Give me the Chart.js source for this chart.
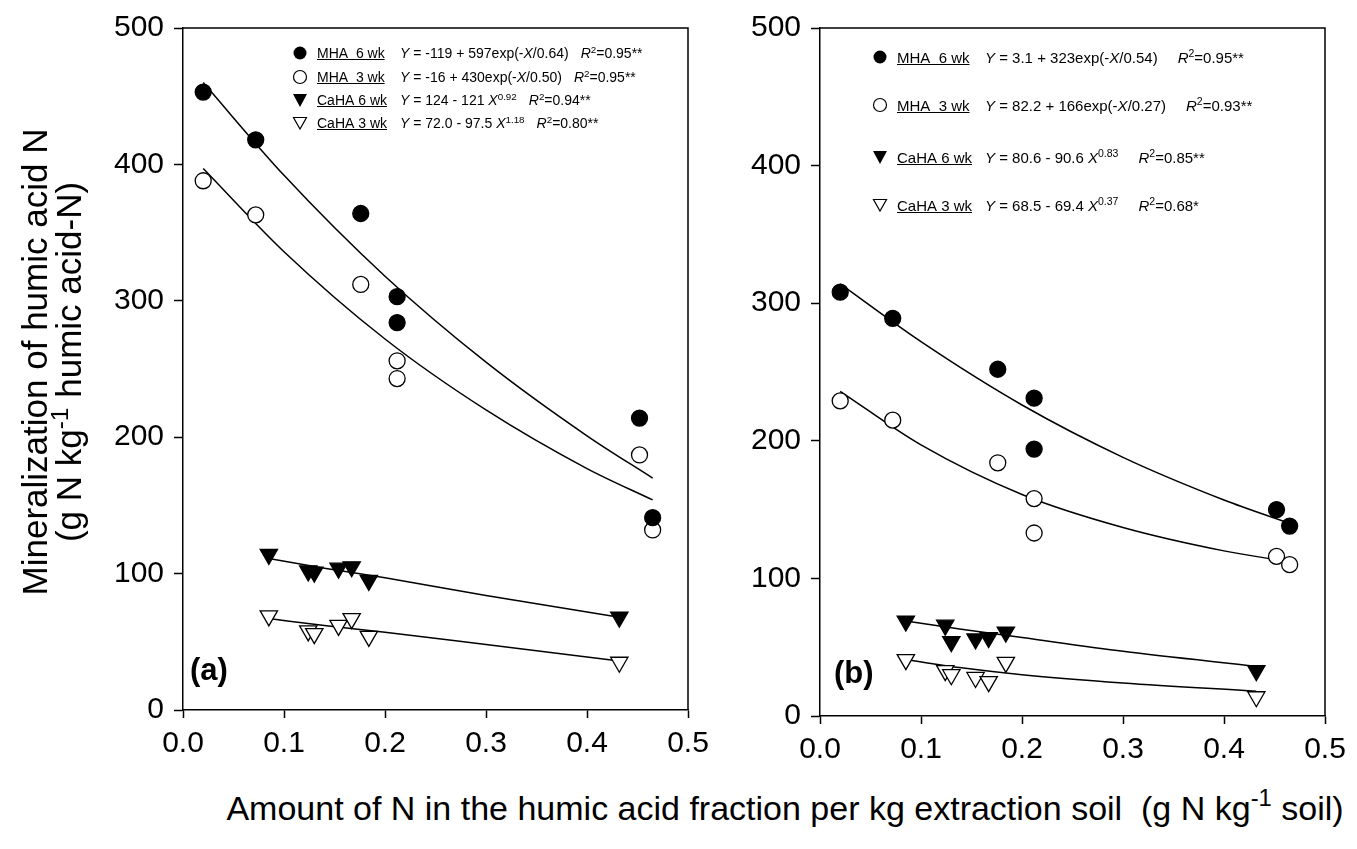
<!DOCTYPE html>
<html>
<head>
<meta charset="utf-8">
<script src="https://cdn.jsdelivr.net/npm/chart.js@4.4.1/dist/chart.umd.min.js"></script>
<style>
  body { margin: 0; background: #fff; font-family: "Liberation Sans", Arial, sans-serif; color: #000; }
  #wrap { position: relative; width: 1357px; height: 849px; overflow: hidden; }
  canvas { position: absolute; top: 0; }
  .lg { position: absolute; white-space: nowrap; line-height: 1; }
  .lg svg { position: absolute; }
  .lg .name { position: absolute; text-decoration: underline; }
  .lg .eq { position: absolute; }
  .lg .r2 { margin-left: 12px; }
  sup { font-size: 70%; vertical-align: 0.55em; line-height: 0; }
  .tag { position: absolute; font-weight: bold; font-size: 31px; }
  #ytitle { position: absolute; left: 52px; top: 362px; width: 600px; font-size: 35px; line-height: 34px;
            text-align: center; transform: translate(-50%, -50%) rotate(-90deg); white-space: nowrap; }
  #xtitle { position: absolute; left: 785px; top: 808px; font-size: 34px; white-space: nowrap;
            transform: translate(-50%, -50%); }
</style>
</head>
<body>
<div id="wrap">
  <canvas id="chartA" width="760" height="770" style="left:0px"></canvas>
  <canvas id="chartB" width="657" height="770" style="left:700px"></canvas>
  <div id="ytitle">Mineralization of humic acid N<br>(g N kg<sup>-1</sup> humic acid-N)</div>
  <div id="xtitle">Amount of N in the humic acid fraction per kg extraction soil&nbsp; (g N kg<sup>-1</sup> soil)</div>
  <div class="tag" style="left:190px; top:652px">(a)</div>
  <div class="tag" style="left:834px; top:655px">(b)</div>
  <div id="legendA"></div>
  <div id="legendB"></div>
</div>
<script>
//------------------------------ Data ------------------------------//
const xTicks = [0, 0.1, 0.2, 0.3, 0.4, 0.5];
const yTicks = [0, 100, 200, 300, 400, 500];

const seriesNames = ['MHA  6 wk', 'MHA  3 wk', 'CaHA 6 wk', 'CaHA 3 wk'];

// N amount of the humic acid fraction (same soils in both panels)
const mhaX  = [0.020, 0.072, 0.176, 0.212, 0.212, 0.452, 0.465];
const cahaX = [0.085, 0.124, 0.130, 0.154, 0.167, 0.184, 0.432];

// panel (a)
const aMha6  = [453, 418, 364, 303, 284, 214, 141];
const aMha3  = [388, 363, 312, 256, 243, 187, 132];
const aCaha6 = [114, 102, 101, 104, 105, 95, 68];
const aCaha3 = [69, 58, 56, 62, 67, 54, 35];

// panel (b)
const bMha6  = [308, 289, 252, 231, 194, 150, 138];
const bMha3  = [229, 215, 184, 158, 133, 116, 110];
const bCaha6 = [69, 66, 54, 56, 57, 61, 33];
const bCaha3 = [41, 33, 30, 28, 25, 39, 14];

// fitted curves
const fitMhaX  = [0.02, 0.1, 0.2, 0.3, 0.4, 0.465];
const fitCahaX = [0.085, 0.14, 0.2, 0.3, 0.432];
const aFitMha6  = [460, 392, 318, 255, 201, 170];
const aFitMha3  = [397, 336, 272, 220, 177, 154];
const aFitCaha6 = [111, 104, 97, 84, 68];
const aFitCaha3 = [67, 62, 57, 48, 36];
const bFitMha6  = [314, 272, 226, 188, 157, 140];
const bFitMha3  = [236, 197, 161, 137, 120, 112];
const bFitCaha6 = [69, 63, 57, 47, 36];
const bFitCaha3 = [41, 35, 30, 24, 18];

const eqA = [
    '<i>Y</i> = -119 + 597exp(-<i>X</i>/0.64)<span class="r2"><i>R</i><sup>2</sup>=0.95**</span>',
    '<i>Y</i> = -16 + 430exp(-<i>X</i>/0.50)<span class="r2"><i>R</i><sup>2</sup>=0.95**</span>',
    '<i>Y</i> = 124 - 121 <i>X</i><sup>0.92</sup><span class="r2"><i>R</i><sup>2</sup>=0.94**</span>',
    '<i>Y</i> = 72.0 - 97.5 <i>X</i><sup>1.18</sup><span class="r2"><i>R</i><sup>2</sup>=0.80**</span>'
];
const eqB = [
    '<i>Y</i> = 3.1 + 323exp(-<i>X</i>/0.54)<span class="r2" style="margin-left:20px"><i>R</i><sup>2</sup>=0.95**</span>',
    '<i>Y</i> = 82.2 + 166exp(-<i>X</i>/0.27)<span class="r2" style="margin-left:20px"><i>R</i><sup>2</sup>=0.93**</span>',
    '<i>Y</i> = 80.6 - 90.6 <i>X</i><sup>0.83</sup><span class="r2" style="margin-left:20px"><i>R</i><sup>2</sup>=0.85**</span>',
    '<i>Y</i> = 68.5 - 69.4 <i>X</i><sup>0.37</sup><span class="r2" style="margin-left:20px"><i>R</i><sup>2</sup>=0.68*</span>'
];

//------------------------------ Helpers ------------------------------//
function pts(xs, ys) {
    return xs.map((x, i) => ({x: x, y: ys[i]}));
}

function markerDataset(xs, ys, filled, tri) {
    return {
        type: 'scatter',
        data: pts(xs, ys),
        pointStyle: tri ? 'triangle' : 'circle',
        rotation: tri ? 180 : 0,
        pointRadius: tri ? 10 : 8,
        backgroundColor: filled ? '#000' : '#fff',
        borderColor: '#000',
        borderWidth: 1.3,
        showLine: false
    };
}

function fitDataset(xs, ys) {
    return {
        type: 'line',
        data: pts(xs, ys),
        borderColor: '#000',
        borderWidth: 1.5,
        pointRadius: 0,
        fill: false,
        cubicInterpolationMode: 'monotone'
    };
}

const boxPlugin = {
    id: 'box',
    afterDraw(chart) {
        const ctx = chart.ctx, a = chart.chartArea;
        ctx.save();
        ctx.strokeStyle = '#000';
        ctx.lineWidth = 1.5;
        ctx.beginPath();
        ctx.moveTo(a.left, a.top);
        ctx.lineTo(a.right, a.top);
        ctx.lineTo(a.right, a.bottom);
        ctx.stroke();
        ctx.restore();
    }
};

function createPanel(canvasId, d, pad) {
    const font = {family: '"Liberation Sans", Arial, sans-serif', size: 30};
    return new Chart(document.getElementById(canvasId), {
        type: 'scatter',
        data: {
            datasets: [
                markerDataset(mhaX, d.mha6, true, false),
                markerDataset(mhaX, d.mha3, false, false),
                markerDataset(cahaX, d.caha6, true, true),
                markerDataset(cahaX, d.caha3, false, true),
                fitDataset(fitMhaX, d.fitMha6),
                fitDataset(fitMhaX, d.fitMha3),
                fitDataset(fitCahaX, d.fitCaha6),
                fitDataset(fitCahaX, d.fitCaha3)
            ]
        },
        options: {
            responsive: false,
            animation: false,
            layout: {padding: pad},
            plugins: {legend: {display: false}, tooltip: {enabled: false}},
            scales: {
                x: {
                    type: 'linear', min: 0, max: 0.5,
                    afterBuildTicks: s => { s.ticks = xTicks.map(v => ({value: v})); },
                    afterFit: s => { s.height = 50; },
                    grid: {drawOnChartArea: false, tickLength: 8, tickColor: '#000', tickWidth: 1.5},
                    border: {color: '#000', width: 1.5},
                    ticks: {color: '#000', font: font, padding: 8, maxRotation: 0,
                            callback: v => v.toFixed(1)}
                },
                y: {
                    type: 'linear', min: 0, max: 500,
                    afterBuildTicks: s => { s.ticks = yTicks.map(v => ({value: v})); },
                    afterFit: s => { s.width = 100; },
                    grid: {drawOnChartArea: false, tickLength: 9, tickColor: '#000', tickWidth: 1.5},
                    border: {color: '#000', width: 1.5},
                    ticks: {color: '#000', font: font, padding: 10}
                }
            }
        },
        plugins: [boxPlugin]
    });
}

function buildLegend(id, o) {
    const el = document.getElementById(id);
    const shapes = [
        '<circle cx="8" cy="8" r="6.5" fill="#000"/>',
        '<circle cx="8" cy="8" r="6.5" fill="#fff" stroke="#000" stroke-width="1.2"/>',
        '<polygon points="1,2 15,2 8,15" fill="#000"/>',
        '<polygon points="1.5,2.5 14.5,2.5 8,14" fill="#fff" stroke="#000" stroke-width="1.2"/>'
    ];
    seriesNames.forEach((name, i) => {
        const row = document.createElement('div');
        row.className = 'lg';
        row.style.left = '0px';
        row.style.top = (o.rows[i] - 8) + 'px';
        row.style.fontSize = o.fs + 'px';
        row.innerHTML =
            '<svg width="16" height="16" style="left:' + (o.mx - 8) + 'px;top:0px">' + shapes[i] + '</svg>' +
            '<span class="name" style="left:' + o.nx + 'px;top:1px">' + name.replace(/ /g, '&nbsp;') + '</span>' +
            '<span class="eq" style="left:' + o.ex + 'px;top:1px">' + o.eqs[i] + '</span>';
        el.appendChild(row);
    });
}

//------------------------------ Build ------------------------------//
createPanel('chartA', {
    mha6: aMha6, mha3: aMha3, caha6: aCaha6, caha3: aCaha3,
    fitMha6: aFitMha6, fitMha3: aFitMha3, fitCaha6: aFitCaha6, fitCaha3: aFitCaha3
}, {left: 83, right: 72, top: 28, bottom: 10});

createPanel('chartB', {
    mha6: bMha6, mha3: bMha3, caha6: bCaha6, caha3: bCaha3,
    fitMha6: bFitMha6, fitMha3: bFitMha3, fitCaha6: bFitCaha6, fitCaha3: bFitCaha3
}, {left: 20, right: 32, top: 25, bottom: 4});

buildLegend('legendA', {rows: [53, 77, 100, 123], mx: 300, nx: 317, ex: 400, fs: 14, eqs: eqA});
buildLegend('legendB', {rows: [57, 105, 157, 205], mx: 880, nx: 897, ex: 985, fs: 15, eqs: eqB});
</script>
</body>
</html>
